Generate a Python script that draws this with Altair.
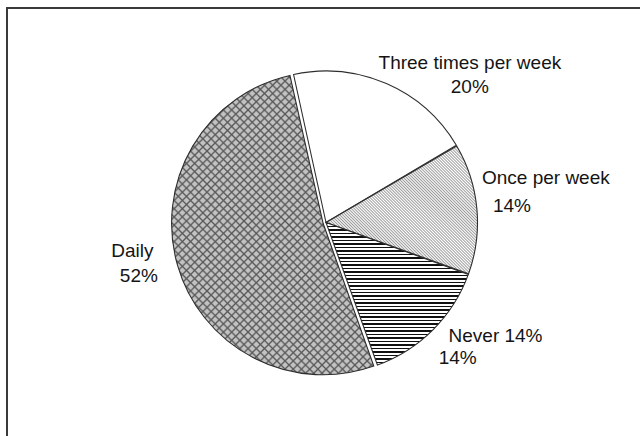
import math

import altair as alt
import pandas as pd

# Survey answers: how often, share of respondents (%)
categories = ["Three times per week", "Once per week", "Never", "Daily"]
shares = [20, 14, 14, 52]
name_labels = ["Three times per week", "Once per week", "Never 14%", "Daily"]

df = pd.DataFrame({
    "idx": list(range(len(categories))),
    "category": categories,
    "share": shares,
    "name": name_labels,
})

# Pie starts a little left of 12 o'clock and runs clockwise
a0 = math.radians(-12.5) + 2 * math.pi
theta_scale = alt.Scale(domain=[0, 100], range=[a0, a0 + 2 * math.pi])

R = 151.5            # pie radius, px
CX, CY = 2.5, 0.5    # nudge of the pie centre inside the view
FONT = "Liberation Sans, Arial, sans-serif"
OUTLINE = "#2e2e2e"


def hatch(n, frac, line, back, x1, y1, x2, y2):
    """Hard-stop linear gradient that reads as a line pattern."""
    stops = []
    for i in range(n):
        a = round(i / n, 6)
        b = round((i + frac) / n, 6)
        c = round(min((i + 1) / n, 1.0), 6)
        stops += [
            alt.GradientStop(color=line, offset=a),
            alt.GradientStop(color=line, offset=b),
            alt.GradientStop(color=back, offset=b),
            alt.GradientStop(color=back, offset=c),
        ]
    return alt.LinearGradient(gradient="linear", stops=stops,
                              x1=x1, y1=y1, x2=x2, y2=y2)


def soft_hatch(n, width, line, back, x1, y1, x2, y2):
    """Line pattern with soft (ramped) edges, which avoids moire on fine spacing."""
    stops = []
    for i in range(n):
        a = i / n
        lo = round(a + (0.5 - width / 2) / n, 6)
        mid = round(a + 0.5 / n, 6)
        hi = round(a + (0.5 + width / 2) / n, 6)
        stops += [
            alt.GradientStop(color=back, offset=round(a, 6)),
            alt.GradientStop(color=back, offset=lo),
            alt.GradientStop(color=line, offset=mid),
            alt.GradientStop(color=back, offset=hi),
        ]
    stops.append(alt.GradientStop(color=back, offset=1))
    return alt.LinearGradient(gradient="linear", stops=stops,
                              x1=x1, y1=y1, x2=x2, y2=y2)


def diag_up(w, h):
    # "/" lines at 45 degrees inside a w x h bounding box
    k = (w + h) / (w * w + h * h)
    return dict(x1=0, y1=0, x2=k * w, y2=k * h)


def diag_down(w, h):
    # "\" lines at 45 degrees inside a w x h bounding box
    k = (w + h) / (w * w + h * h)
    return dict(x1=0, y1=1, x2=k * w, y2=1 - k * h)


# approximate slice extents (px) used to keep the hatching at 45 degrees
ONCE_BOX = (151.5, 128.5)
NEVER_BOX = (142.4, 142.6)
DAILY_BOX = (202.6, 299.4)

once_fill = soft_hatch(94, 0.95, "#9c9c9c", "#ffffff", **diag_down(*ONCE_BOX))
never_fill = hatch(41, 0.42, "#111111", "#ffffff", x1=0, y1=0, x2=0, y2=1)
daily_fill_a = soft_hatch(61, 0.46, "#595959", "#c2c2c2", **diag_up(*DAILY_BOX))
daily_fill_b = soft_hatch(61, 0.46, "#595959", "rgba(89,89,89,0)", **diag_down(*DAILY_BOX))

base = (
    alt.Chart(df)
    .transform_window(cum="sum(share)", sort=[alt.SortField("idx", order="ascending")],
                      frame=[None, 0])
    .transform_calculate(start="datum.cum - datum.share",
                         mid="datum.cum - datum.share / 2",
                         pct="datum.share + '%'")
)


def slice_layer(cat, fill, outline=True, dx=0.0, dy=0.0):
    props = dict(fill=fill, radius=R, padAngle=0.005, xOffset=CX + dx, yOffset=CY + dy)
    if outline:
        props.update(stroke=OUTLINE, strokeWidth=1.1)
    return (
        base.transform_filter(alt.datum.category == cat)
        .mark_arc(**props)
        .encode(theta=alt.Theta("start:Q", scale=theta_scale, stack=False),
                theta2="cum:Q")
    )


# Daily is pulled slightly out of the pie
DAILY_DX, DAILY_DY = -2.9, 0.8

arcs = [
    slice_layer("Three times per week", "#ffffff"),
    slice_layer("Once per week", once_fill),
    slice_layer("Never", never_fill),
    slice_layer("Daily", daily_fill_a, outline=False, dx=DAILY_DX, dy=DAILY_DY),
    slice_layer("Daily", daily_fill_b, dx=DAILY_DX, dy=DAILY_DY),
]

# label placement: (category, field, align, dx, dy) around a ring outside the pie
label_specs = [
    ("Three times per week", "name", "center", 76.6, 7.5),
    ("Three times per week", "pct", "center", 76.5, 31.2),
    ("Once per week", "name", "left", -15.8, -21.8),
    ("Once per week", "pct", "left", -4.8, 5.9),
    ("Never", "name", "left", 1.5, -3.7),
    ("Never", "pct", "left", -8.3, 18.3),
    ("Daily", "name", "left", -44.2, -13.2),
    ("Daily", "pct", "left", -35.5, 11.2),
]

texts = [
    base.transform_filter(alt.datum.category == cat)
    .mark_text(radius=175, align=align, baseline="alphabetic", dx=dx, dy=dy,
               font=FONT, fontSize=19, color="#141414")
    .encode(theta=alt.Theta("mid:Q", scale=theta_scale, stack=False),
            text=alt.Text(f"{field}:N"))
    for cat, field, align, dx, dy in label_specs
]

# chart-area frame, running off the right and bottom edges
frame = (
    alt.Chart(pd.DataFrame({"frame": [0]}))
    .mark_rect(fill="#ffffff", fillOpacity=0, stroke="#3a3a3a", strokeWidth=2)
    .encode(x=alt.value(0), y=alt.value(0), x2=alt.value(800), y2=alt.value(600))
)

chart = (
    alt.layer(frame, *arcs, *texts)
    .properties(width=633, height=428, autosize="none",
                padding={"left": 7, "top": 8, "right": 0, "bottom": 0})
    .configure(background="#ffffff")
    .configure_view(stroke=None)
)

chart.save("out.html", embed_options={"renderer": "svg", "actions": False})
